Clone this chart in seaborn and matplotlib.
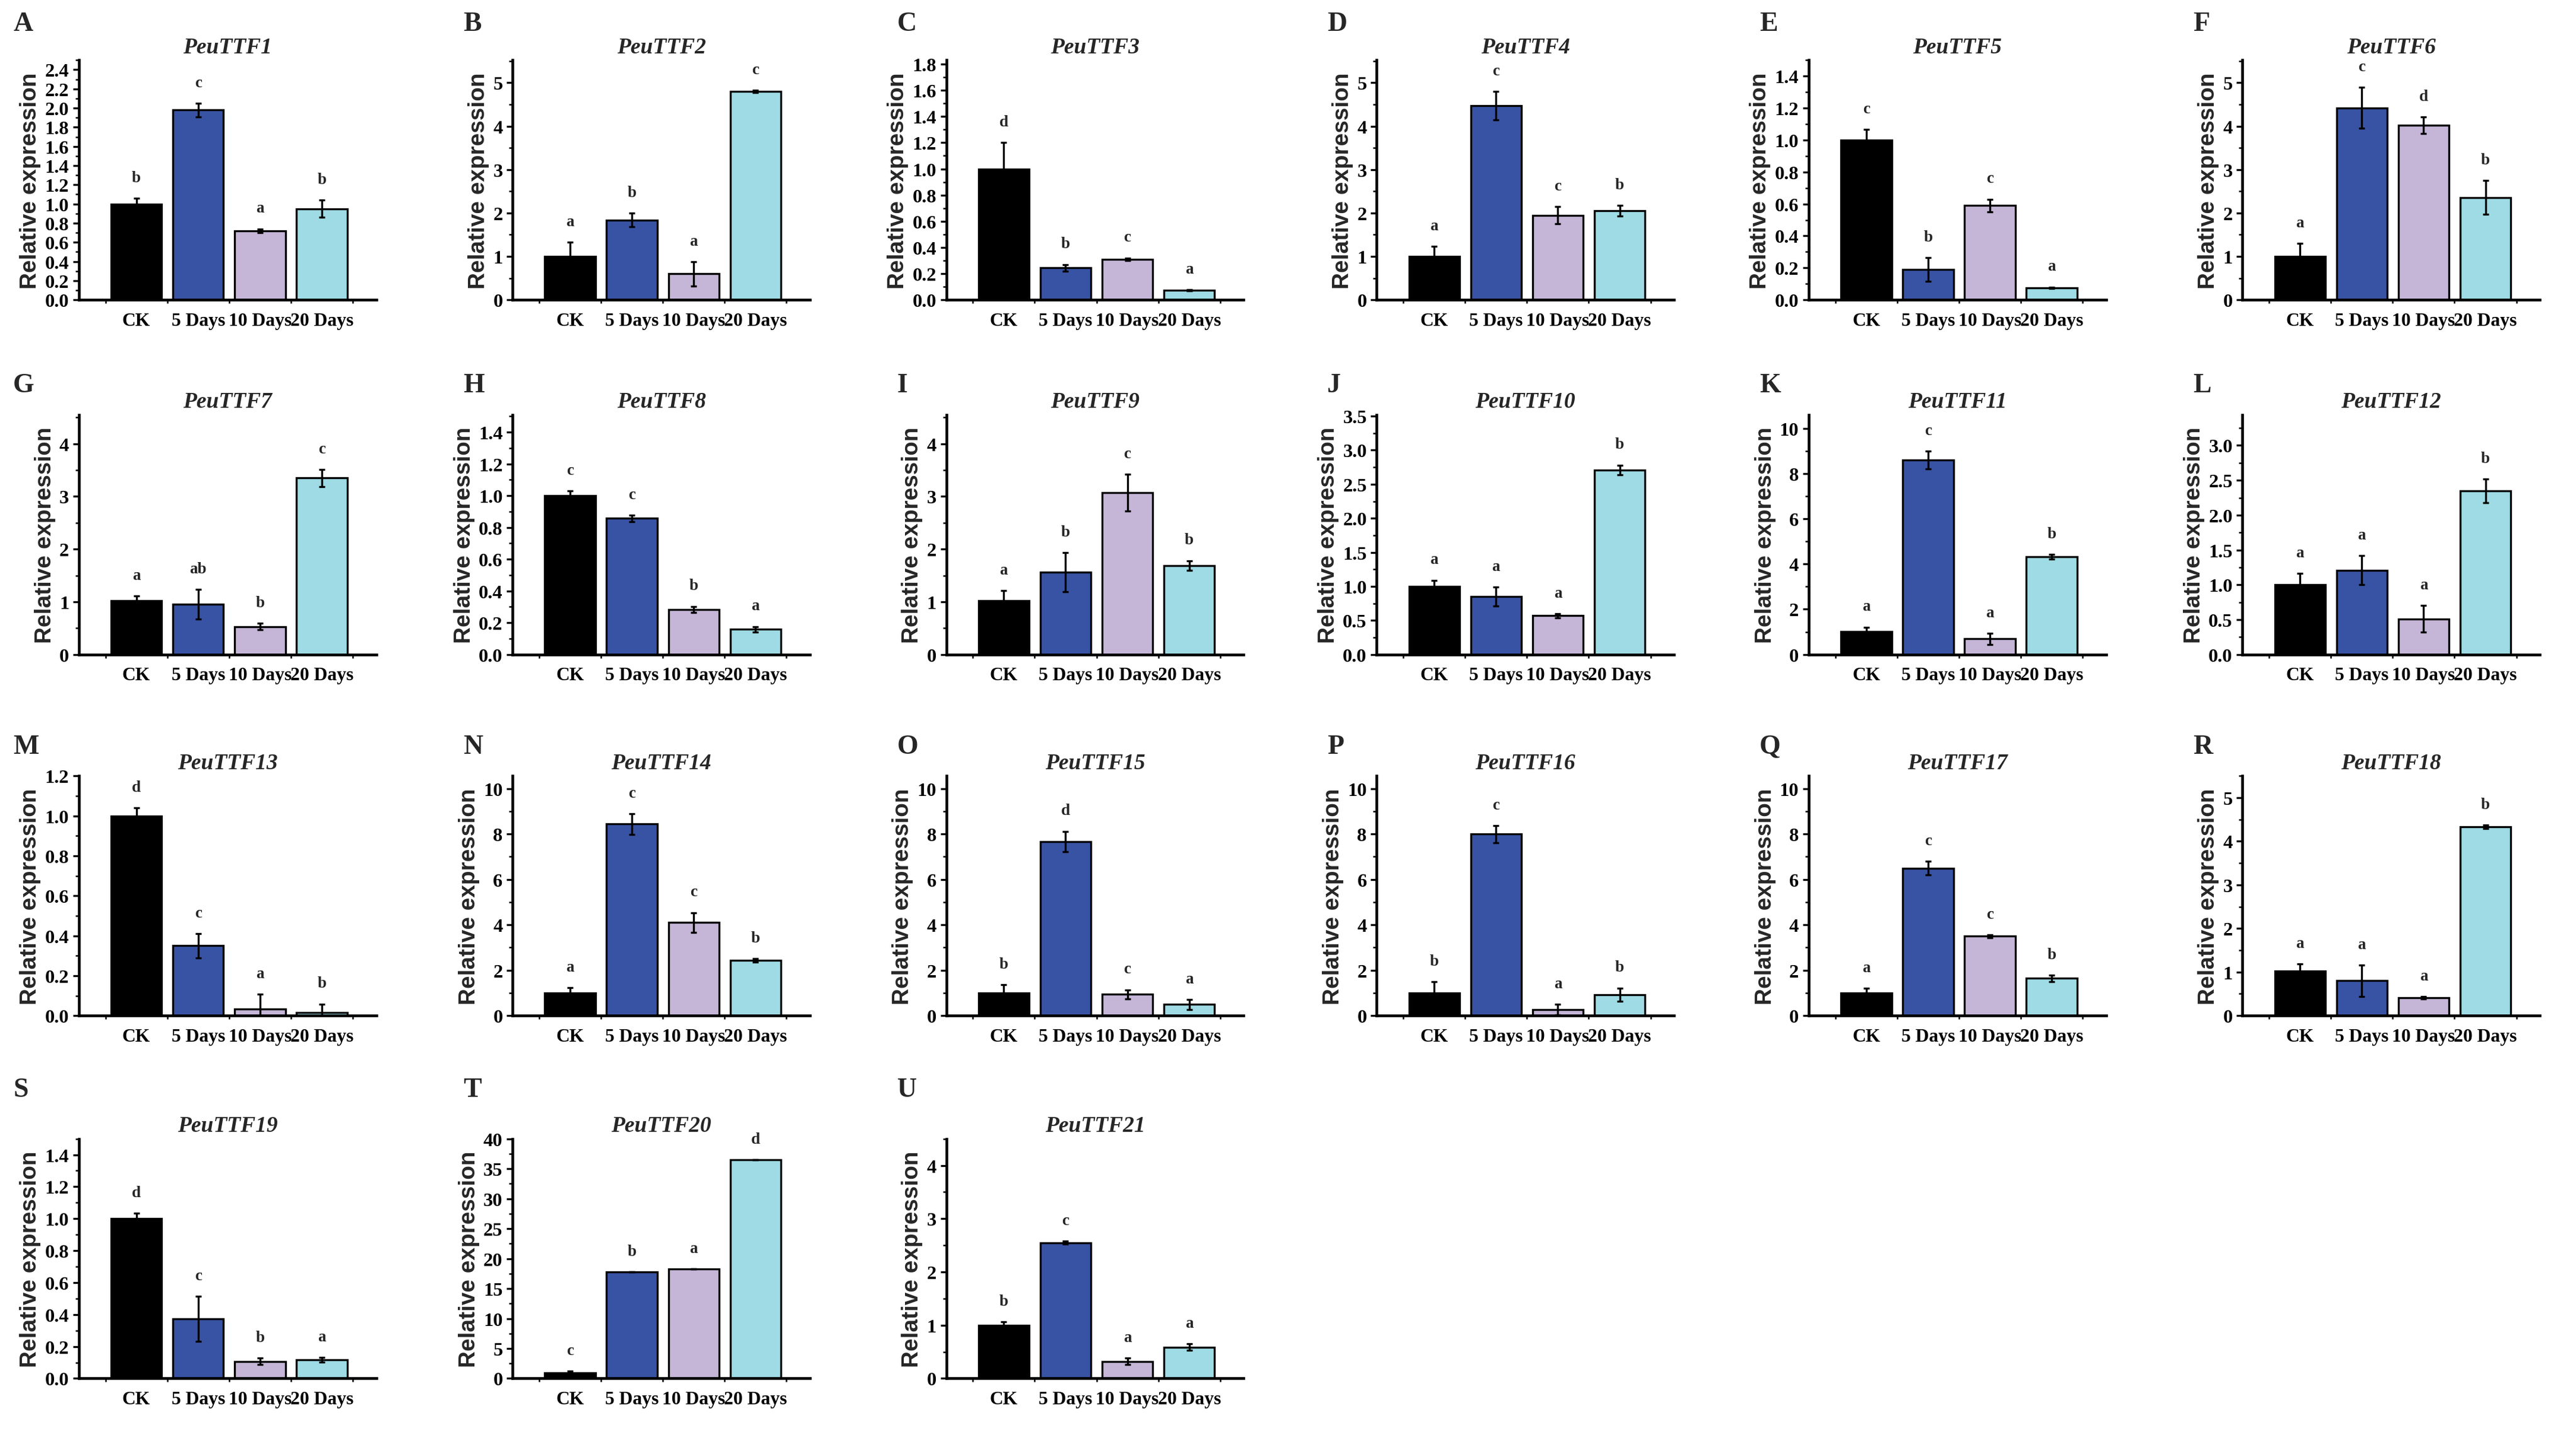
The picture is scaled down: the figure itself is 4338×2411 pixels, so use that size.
import numpy as np
import pandas as pd
import matplotlib
matplotlib.use("Agg")
import matplotlib.pyplot as plt
import seaborn as sns
from matplotlib.ticker import AutoMinorLocator, FormatStrFormatter, FixedLocator

sns.set_style("ticks")
plt.rcParams['font.family'] = ['Liberation Serif', 'DejaVu Serif']

categories = ['CK', '5 Days', '10 Days', '20 Days']
colors = ['#000000', '#3953A4', '#C5B6D8', '#9FDBE4']
genes = [f'PeuTTF{i}' for i in range(1, 22)]
panel_letters = list('ABCDEFGHIJKLMNOPQRSTU')

values = [
    [1.00, 1.98, 0.72, 0.95],
    [1.00, 1.84, 0.60, 4.80],
    [1.00, 0.245, 0.31, 0.072],
    [1.00, 4.47, 1.95, 2.05],
    [1.00, 0.19, 0.59, 0.075],
    [1.00, 4.42, 4.02, 2.36],
    [1.02, 0.95, 0.53, 3.35],
    [1.00, 0.857, 0.283, 0.158],
    [1.02, 1.56, 3.07, 1.69],
    [1.00, 0.85, 0.57, 2.71],
    [1.01, 8.60, 0.69, 4.32],
    [1.00, 1.21, 0.51, 2.35],
    [1.00, 0.35, 0.032, 0.015],
    [1.00, 8.44, 4.10, 2.43],
    [1.00, 7.67, 0.94, 0.49],
    [1.00, 8.00, 0.26, 0.92],
    [1.00, 6.50, 3.50, 1.64],
    [1.02, 0.80, 0.41, 4.33],
    [1.00, 0.373, 0.107, 0.117],
    [0.97, 17.75, 18.25, 36.5],
    [1.00, 2.55, 0.32, 0.59],
]
errors = [
    [0.06, 0.07, 0.02, 0.09],
    [0.33, 0.16, 0.28, 0.03],
    [0.20, 0.025, 0.01, 0.005],
    [0.23, 0.33, 0.20, 0.12],
    [0.066, 0.075, 0.04, 0.005],
    [0.30, 0.47, 0.19, 0.39],
    [0.09, 0.28, 0.06, 0.16],
    [0.03, 0.02, 0.02, 0.018],
    [0.19, 0.37, 0.35, 0.09],
    [0.09, 0.14, 0.03, 0.07],
    [0.20, 0.40, 0.24, 0.10],
    [0.16, 0.21, 0.19, 0.17],
    [0.04, 0.06, 0.076, 0.043],
    [0.23, 0.45, 0.44, 0.08],
    [0.36, 0.45, 0.20, 0.22],
    [0.50, 0.38, 0.23, 0.30],
    [0.20, 0.30, 0.06, 0.15],
    [0.17, 0.36, 0.03, 0.04],
    [0.035, 0.14, 0.02, 0.015],
    [0.25, 0.0, 0.0, 0.0],
    [0.06, 0.03, 0.06, 0.06],
]
sig_letters = [
    ['b', 'c', 'a', 'b'], ['a', 'b', 'a', 'c'], ['d', 'b', 'c', 'a'],
    ['a', 'c', 'c', 'b'], ['c', 'b', 'c', 'a'], ['a', 'c', 'd', 'b'],
    ['a', 'ab', 'b', 'c'], ['c', 'c', 'b', 'a'], ['a', 'b', 'c', 'b'],
    ['a', 'a', 'a', 'b'], ['a', 'c', 'a', 'b'], ['a', 'a', 'a', 'b'],
    ['d', 'c', 'a', 'b'], ['a', 'c', 'c', 'b'], ['b', 'd', 'c', 'a'],
    ['b', 'c', 'a', 'b'], ['a', 'c', 'c', 'b'], ['a', 'a', 'a', 'b'],
    ['d', 'c', 'b', 'a'], ['c', 'b', 'a', 'd'], ['b', 'c', 'a', 'a'],
]
y_top = [2.5, 5.52, 1.83, 5.52, 1.5, 5.52,
         4.55, 1.51, 4.55, 3.52, 10.6, 3.44,
         1.2, 10.56, 10.56, 10.56, 10.56, 5.5,
         1.5, 40.0, 4.5]
y_step = [0.2, 1, 0.2, 1, 0.2, 1,
          1, 0.2, 1, 0.5, 2, 0.5,
          0.2, 2, 2, 2, 2, 1,
          0.2, 5, 1]
y_tick_max = [2.4, 5, 1.8, 5, 1.4, 5,
              4, 1.4, 4, 3.5, 10, 3.0,
              1.2, 10, 10, 10, 10, 5,
              1.4, 40, 4]
y_dec = [1, 0, 1, 0, 1, 0,
         0, 1, 0, 1, 0, 1,
         1, 0, 0, 0, 0, 0,
         1, 0, 0]

# layout (in reference display px, 1568 x 872)
W, H = 1568.0, 872.0
col_left = [48, 312, 576, 838, 1101, 1365]
row_bottom = [183, 399, 619, 840]
row_letter_y = [15, 235, 455, 664]
ax_w, ax_h = 181, 146

fig = plt.figure(figsize=(4338 / 300, 2412 / 300), dpi=300)

for i in range(21):
    r, c = divmod(i, 6)
    left = col_left[c] / W
    bottom = 1 - row_bottom[r] / H
    ax = fig.add_axes([left, bottom, ax_w / W, ax_h / H])
    df = pd.DataFrame({'Treatment': categories, 'Expression': values[i]})
    sns.barplot(data=df, x='Treatment', y='Expression', hue='Treatment',
                palette=colors, order=categories, hue_order=categories,
                width=0.82, edgecolor='black', linewidth=0.8, saturation=1,
                errorbar=None, legend=False, ax=ax)
    xs = np.arange(len(categories))
    ax.errorbar(xs, values[i], yerr=errors[i], fmt='none', ecolor='black',
                elinewidth=0.8, capsize=1.2, capthick=0.8, zorder=5)
    for x, v, e, s in zip(xs, values[i], errors[i], sig_letters[i]):
        ax.text(x, v + e + 0.055 * y_top[i], s, ha='center', va='bottom',
                fontsize=6.5, fontweight='bold', family='Liberation Serif',
                clip_on=False)
    ax.set_xlim(-0.93, 3.88)
    ax.set_ylim(0, y_top[i])
    ticks = np.round(np.arange(0, y_tick_max[i] + 1e-9, y_step[i]), 4)
    ax.yaxis.set_major_locator(FixedLocator(ticks))
    ax.yaxis.set_major_formatter(FormatStrFormatter(f'%.{y_dec[i]}f'))
    ax.yaxis.set_minor_locator(AutoMinorLocator(2))
    ax.xaxis.set_minor_locator(FixedLocator([-0.5, 0.5, 1.5, 2.5, 3.5]))
    ax.set_xlabel('')
    ax.set_ylabel('Relative expression', family='Liberation Sans',
                  fontweight='bold', fontsize=9.3, labelpad=1.5)
    ax.set_title(genes[i], fontsize=9, fontweight='bold', style='italic',
                 family='Liberation Serif', pad=3)
    for sp in ['top', 'right']:
        ax.spines[sp].set_visible(False)
    for sp in ['left', 'bottom']:
        ax.spines[sp].set_linewidth(1.1)
        ax.spines[sp].set_color('black')
    ax.tick_params(axis='both', which='major', length=2.5, width=0.8,
                   direction='out', pad=1.5, colors='black')
    ax.tick_params(axis='both', which='minor', length=1.5, width=0.6,
                   direction='out', colors='black')
    ax.tick_params(axis='x', which='major', length=0, pad=5)
    for lab in ax.get_xticklabels():
        lab.set_fontfamily('Liberation Serif')
        lab.set_fontweight('bold')
        lab.set_fontsize(7.6)
    for lab in ax.get_yticklabels():
        lab.set_fontfamily('Liberation Serif')
        lab.set_fontweight('bold')
        lab.set_fontsize(7.8)
    lx = (col_left[c] - (40 if c == 0 else 30)) / W
    fig.text(lx, 1 - row_letter_y[r] / H, panel_letters[i], ha='left',
             va='center', fontsize=11, fontweight='bold',
             family='Liberation Serif')

fig.savefig('out.png', dpi=300)
